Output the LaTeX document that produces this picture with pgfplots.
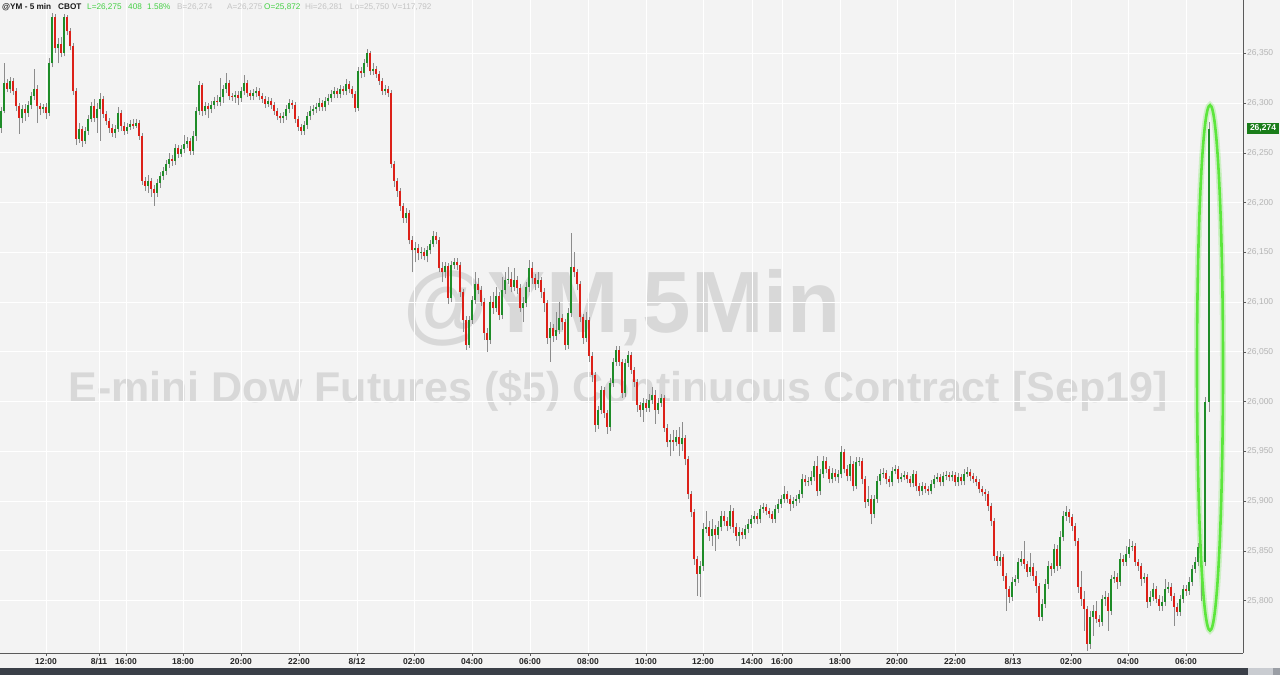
\documentclass[border=0pt]{standalone}
\usepackage{pgfplots}
\usepackage{pgfplotstable}
\usepackage{fontspec}
\setmainfont{Liberation Sans}
\pgfplotsset{compat=1.18}
\definecolor{bggray}{HTML}{F3F3F3}
\definecolor{axisgray}{HTML}{5A5A5A}
\definecolor{labgray}{HTML}{B4B4B4}
\definecolor{upgreen}{HTML}{1E8C28}
\definecolor{downred}{HTML}{DC2018}
\definecolor{wickgray}{HTML}{8C8C8C}
\definecolor{wmgray}{HTML}{D8D8D8}
\definecolor{hdgreen}{HTML}{45D045}
\definecolor{hdgray}{HTML}{C4C4C4}
\definecolor{boxgreen}{HTML}{1A7D1A}
\definecolor{ellgreen}{HTML}{5CE63C}
\definecolor{stripdark}{HTML}{3A3F48}
\definecolor{stripmid}{HTML}{C9CCD1}
\definecolor{stripend}{HTML}{9A9EA5}

\pgfplotstableread{
x o h l c
1 26275 26296 26270 26292
4 26292 26340 26290 26320
7 26320 26324 26311 26314
10 26314 26326 26310 26322
13 26322 26325 26308 26312
16 26312 26315 26292 26297
19 26297 26300 26269 26285
22 26285 26298 26280 26294
25 26294 26299 26282 26290
28 26290 26302 26286 26298
31 26298 26311 26294 26307
34 26307 26334 26303 26314
37 26314 26318 26280 26297
40 26297 26300 26288 26294
43 26294 26299 26290 26296
46 26296 26300 26284 26290
49 26290 26345 26287 26340
52 26340 26391 26336 26387
55 26387 26390 26350 26355
58 26355 26365 26340 26359
61 26359 26366 26346 26350
64 26350 26390 26347 26387
67 26387 26389 26368 26372
70 26372 26375 26353 26357
73 26357 26360 26308 26312
76 26312 26315 26258 26264
79 26264 26280 26260 26274
82 26274 26277 26256 26262
85 26262 26276 26259 26272
88 26272 26288 26268 26284
91 26284 26301 26281 26297
94 26297 26304 26281 26285
97 26285 26300 26270 26294
100 26294 26310 26262 26304
103 26304 26307 26285 26289
106 26289 26292 26278 26282
109 26282 26285 26270 26275
112 26275 26279 26266 26270
115 26270 26278 26265 26274
118 26274 26296 26271 26290
121 26290 26293 26272 26277
124 26277 26281 26268 26272
127 26272 26280 26269 26276
130 26276 26283 26273 26279
133 26279 26284 26274 26277
136 26277 26284 26275 26280
139 26280 26283 26263 26267
142 26267 26270 26218 26222
145 26222 26226 26212 26217
148 26217 26228 26210 26222
151 26222 26225 26206 26214
154 26214 26218 26197 26210
157 26210 26224 26206 26220
160 26220 26231 26215 26227
163 26227 26236 26223 26232
166 26232 26243 26228 26239
169 26239 26250 26235 26244
172 26244 26248 26237 26242
175 26242 26259 26238 26255
178 26255 26258 26245 26249
181 26249 26258 26246 26254
184 26254 26268 26250 26259
187 26259 26266 26255 26262
190 26262 26265 26248 26252
193 26252 26272 26248 26267
196 26267 26296 26262 26292
199 26292 26322 26288 26318
202 26318 26320 26287 26292
205 26292 26301 26288 26297
208 26297 26300 26285 26294
211 26294 26302 26290 26298
214 26298 26306 26294 26302
217 26302 26308 26297 26301
220 26301 26325 26297 26306
223 26306 26318 26300 26314
226 26314 26330 26310 26320
229 26320 26323 26303 26307
232 26307 26310 26302 26306
235 26306 26312 26300 26308
238 26308 26312 26298 26305
241 26305 26316 26301 26312
244 26312 26328 26308 26320
247 26320 26323 26306 26310
250 26310 26313 26303 26307
253 26307 26314 26303 26310
256 26310 26316 26306 26312
259 26312 26315 26303 26307
262 26307 26310 26300 26304
265 26304 26307 26295 26299
268 26299 26306 26296 26302
271 26302 26305 26294 26298
274 26298 26301 26288 26292
277 26292 26295 26283 26287
280 26287 26290 26280 26285
283 26285 26291 26280 26287
286 26287 26298 26283 26294
289 26294 26304 26290 26300
292 26300 26303 26294 26298
295 26298 26301 26280 26284
298 26284 26287 26272 26276
301 26276 26279 26268 26272
304 26272 26282 26268 26278
307 26278 26291 26274 26287
310 26287 26297 26283 26292
313 26292 26298 26288 26294
316 26294 26300 26290 26296
319 26296 26305 26292 26300
322 26300 26303 26292 26296
325 26296 26306 26292 26302
328 26302 26309 26298 26305
331 26305 26313 26301 26309
334 26309 26316 26305 26312
337 26312 26315 26305 26309
340 26309 26318 26305 26314
343 26314 26317 26308 26312
346 26312 26324 26308 26319
349 26319 26322 26310 26314
352 26314 26317 26305 26309
355 26309 26312 26291 26295
358 26295 26336 26292 26332
361 26332 26336 26325 26330
364 26330 26344 26326 26340
367 26340 26354 26336 26350
370 26350 26352 26328 26332
373 26332 26340 26328 26334
376 26334 26337 26325 26329
379 26329 26332 26318 26322
382 26322 26325 26308 26312
385 26312 26318 26308 26314
388 26314 26317 26306 26310
391 26310 26313 26235 26239
394 26239 26242 26216 26222
397 26222 26225 26206 26212
400 26212 26215 26192 26197
403 26197 26200 26180 26185
406 26185 26195 26180 26190
409 26190 26193 26158 26162
412 26162 26166 26130 26152
415 26152 26160 26140 26154
418 26154 26158 26142 26149
421 26149 26155 26143 26150
424 26150 26154 26142 26146
427 26146 26156 26140 26152
430 26152 26162 26148 26158
433 26158 26172 26155 26166
436 26166 26170 26158 26162
439 26162 26165 26130 26134
442 26134 26140 26120 26130
445 26130 26140 26124 26136
448 26136 26139 26098 26104
451 26104 26141 26100 26137
454 26137 26144 26133 26140
457 26140 26144 26132 26137
460 26137 26140 26105 26110
463 26110 26113 26070 26082
466 26082 26086 26052 26057
469 26057 26086 26054 26082
472 26082 26106 26078 26102
475 26102 26130 26098 26118
478 26118 26124 26108 26112
481 26112 26116 26096 26100
484 26100 26104 26062 26069
487 26069 26074 26050 26062
490 26062 26106 26058 26100
493 26100 26110 26088 26094
496 26094 26115 26090 26106
499 26106 26110 26082 26087
502 26087 26125 26083 26112
505 26112 26130 26108 26122
508 26122 26135 26118 26123
511 26123 26130 26110 26115
514 26115 26134 26111 26122
517 26122 26126 26108 26114
520 26114 26118 26090 26094
523 26094 26105 26080 26099
526 26099 26120 26095 26115
529 26115 26142 26110 26134
532 26134 26140 26118 26124
535 26124 26128 26112 26118
538 26118 26130 26114 26122
541 26122 26125 26104 26110
544 26110 26114 26090 26099
547 26099 26102 26058 26064
550 26064 26080 26040 26074
553 26074 26078 26060 26066
556 26066 26090 26062 26072
559 26072 26100 26068 26084
562 26084 26088 26072 26080
565 26080 26083 26052 26057
568 26057 26094 26053 26089
571 26089 26169 26085 26135
574 26135 26150 26125 26130
577 26130 26133 26112 26118
580 26118 26121 26080 26085
583 26085 26088 26058 26064
586 26064 26090 26060 26082
589 26082 26085 26040 26046
592 26046 26050 26020 26027
595 26027 26030 25970 25977
598 25977 25996 25973 25992
601 25992 26016 25988 26012
604 26012 26015 25984 25989
607 25989 25992 25968 25975
610 25975 26024 25971 26019
613 26019 26044 26015 26040
616 26040 26056 26036 26052
619 26052 26056 26036 26040
622 26040 26043 26004 26009
625 26009 26043 26005 26039
628 26039 26051 26035 26047
631 26047 26050 26028 26032
634 26032 26035 26015 26020
637 26020 26023 25990 25997
640 25997 26000 25985 25992
643 25992 26004 25980 25999
646 25999 26003 25990 25994
649 25994 26008 25990 26002
652 26002 26015 25998 26007
655 26007 26012 25978 25992
658 25992 26004 25988 25999
661 25999 26008 25995 26004
664 26004 26007 25970 25974
667 25974 25978 25954 25959
670 25959 25968 25945 25962
673 25962 25972 25950 25959
676 25959 25972 25955 25965
679 25965 25975 25945 25957
682 25957 25980 25950 25964
685 25964 25967 25936 25942
688 25942 25945 25902 25907
691 25907 25910 25884 25889
694 25889 25892 25836 25842
697 25842 25845 25805 25827
700 25827 25840 25804 25835
703 25835 25878 25830 25872
706 25872 25890 25868 25874
709 25874 25880 25860 25865
712 25865 25882 25855 25872
715 25872 25876 25850 25866
718 25866 25880 25862 25874
721 25874 25890 25870 25885
724 25885 25890 25875 25880
727 25880 25884 25870 25875
730 25875 25896 25872 25890
733 25890 25893 25868 25874
736 25874 25878 25860 25865
739 25865 25874 25855 25869
742 25869 25873 25862 25866
745 25866 25876 25862 25872
748 25872 25882 25868 25877
751 25877 25886 25873 25882
754 25882 25890 25878 25885
757 25885 25888 25877 25882
760 25882 25896 25878 25892
763 25892 25898 25888 25894
766 25894 25897 25886 25890
769 25890 25893 25883 25887
772 25887 25890 25878 25882
775 25882 25896 25878 25892
778 25892 25902 25888 25897
781 25897 25906 25893 25902
784 25902 25915 25898 25907
787 25907 25910 25898 25902
790 25902 25906 25890 25897
793 25897 25904 25893 25900
796 25900 25906 25895 25902
799 25902 25911 25898 25907
802 25907 25927 25903 25922
805 25922 25926 25915 25919
808 25919 25924 25915 25920
811 25920 25930 25916 25924
814 25924 25940 25920 25935
817 25935 25945 25905 25910
820 25910 25932 25906 25927
823 25927 25945 25923 25940
826 25940 25944 25928 25932
829 25932 25935 25918 25922
832 25922 25933 25918 25928
835 25928 25932 25920 25924
838 25924 25931 25918 25927
841 25927 25955 25923 25949
844 25949 25952 25928 25932
847 25932 25936 25920 25925
850 25925 25945 25920 25937
853 25937 25940 25910 25915
856 25915 25944 25912 25939
859 25939 25944 25935 25940
862 25940 25943 25917 25922
865 25922 25925 25893 25899
868 25899 25915 25895 25902
871 25902 25906 25877 25887
874 25887 25906 25883 25902
877 25902 25925 25898 25920
880 25920 25932 25916 25927
883 25927 25933 25923 25928
886 25928 25931 25917 25922
889 25922 25925 25914 25919
892 25919 25934 25915 25930
895 25930 25936 25927 25932
898 25932 25935 25918 25922
901 25922 25928 25919 25924
904 25924 25930 25921 25926
907 25926 25929 25918 25922
910 25922 25925 25914 25918
913 25918 25931 25914 25927
916 25927 25930 25910 25915
919 25915 25918 25905 25910
922 25910 25919 25906 25915
925 25915 25918 25908 25912
928 25912 25915 25906 25910
931 25910 25921 25907 25917
934 25917 25926 25913 25922
937 25922 25928 25919 25924
940 25924 25927 25915 25919
943 25919 25929 25915 25925
946 25925 25930 25921 25926
949 25926 25929 25920 25924
952 25924 25930 25920 25926
955 25926 25929 25915 25919
958 25919 25928 25915 25924
961 25924 25927 25916 25920
964 25920 25932 25916 25927
967 25927 25934 25924 25929
970 25929 25932 25920 25925
973 25925 25928 25918 25922
976 25922 25925 25915 25919
979 25919 25922 25908 25912
982 25912 25915 25905 25909
985 25909 25912 25900 25907
988 25907 25910 25890 25895
991 25895 25898 25875 25880
994 25880 25883 25840 25845
997 25845 25850 25835 25840
1000 25840 25850 25835 25844
1003 25844 25847 25820 25825
1006 25825 25828 25790 25812
1009 25812 25815 25798 25804
1012 25804 25824 25800 25819
1015 25819 25826 25815 25822
1018 25822 25843 25818 25839
1021 25839 25850 25835 25842
1024 25842 25860 25832 25837
1027 25837 25840 25824 25829
1030 25829 25848 25825 25834
1033 25834 25838 25820 25825
1036 25825 25830 25808 25815
1039 25815 25818 25780 25784
1042 25784 25802 25780 25797
1045 25797 25822 25793 25817
1048 25817 25840 25812 25835
1051 25835 25838 25825 25832
1054 25832 25857 25828 25852
1057 25852 25856 25830 25835
1060 25835 25870 25832 25864
1063 25864 25890 25860 25885
1066 25885 25895 25880 25889
1069 25889 25892 25878 25884
1072 25884 25887 25870 25875
1075 25875 25878 25855 25860
1078 25860 25863 25808 25814
1081 25814 25830 25795 25802
1084 25802 25810 25770 25792
1087 25792 25795 25750 25757
1090 25757 25790 25752 25784
1093 25784 25796 25765 25790
1096 25790 25800 25778 25782
1099 25782 25786 25774 25779
1102 25779 25806 25775 25802
1105 25802 25810 25795 25804
1108 25804 25808 25770 25790
1111 25790 25826 25786 25822
1114 25822 25830 25818 25824
1117 25824 25828 25812 25819
1120 25819 25848 25815 25842
1123 25842 25846 25835 25839
1126 25839 25855 25835 25847
1129 25847 25862 25843 25854
1132 25854 25860 25850 25855
1135 25855 25858 25835 25839
1138 25839 25842 25830 25835
1141 25835 25838 25815 25822
1144 25822 25828 25818 25824
1147 25824 25827 25793 25799
1150 25799 25810 25795 25804
1153 25804 25818 25800 25812
1156 25812 25815 25798 25802
1159 25802 25806 25790 25795
1162 25795 25805 25790 25799
1165 25799 25822 25795 25812
1168 25812 25819 25808 25814
1171 25814 25818 25800 25805
1174 25805 25808 25775 25794
1177 25794 25798 25785 25789
1180 25789 25806 25785 25802
1183 25802 25816 25798 25812
1186 25812 25816 25805 25810
1189 25810 25824 25806 25819
1192 25819 25836 25815 25832
1195 25832 25844 25828 25839
1198 25839 25858 25835 25854
1201 25854 25857 25800 25839
1205 25839 26005 25835 26000
1209 26000 26281 25990 26274
}\candles

\begin{document}
\begin{tikzpicture}[x=1pt,y=1pt]
\useasboundingbox (0,0) rectangle (1280,675);
\fill[bggray] (0,0) rectangle (1280,675);
% watermark
\node[anchor=base, text=wmgray, font=\fontsize{87}{90}\selectfont\bfseries, inner sep=0pt] at (622,342) {@YM,5Min};
\node[anchor=base, text=wmgray, font=\fontsize{43}{46}\selectfont\bfseries, inner sep=0pt] at (618,272) {E-mini Dow Futures (\$5) Continuous Contract [Sep19]};
\begin{axis}[
  at={(0pt,22pt)}, anchor=south west,
  scale only axis, width=1243pt, height=653pt,
  xmin=0, xmax=1243, ymin=25747.5, ymax=26403.6,
  axis x line*=bottom, axis y line*=right,
  axis line style={-, draw=axisgray, line width=0.8pt},
  xtick={46,99,126,183,241,299,357,414,472,530,588,646,703,752,782,840,897,955,1013,1071,1128,1186},
  xticklabels={12:00,8/11,16:00,18:00,20:00,22:00,8/12,02:00,04:00,06:00,08:00,10:00,12:00,14:00,16:00,18:00,20:00,22:00,8/13,02:00,04:00,06:00},
  ytick={25800,25850,25900,25950,26000,26050,26100,26150,26200,26250,26300,26350},
  yticklabels={{25,800},{25,850},{25,900},{25,950},{26,000},{26,050},{26,100},{26,150},{26,200},{26,250},{26,300},{26,350}},
  tick align=outside, major tick length=3pt,
  tick style={draw=axisgray, line width=0.6pt},
  grid=major, major grid style={draw=white, line width=1pt},
  xticklabel style={font=\fontsize{8.5}{10}\selectfont\bfseries, text=black!85, inner sep=0pt, yshift=-2pt},
  yticklabel style={font=\fontsize{8.5}{10}\selectfont, text=labgray, inner sep=0pt, anchor=west, xshift=1pt},
]
% wicks
\addplot[draw=none, mark=none, forget plot,
  error bars/.cd, y dir=plus, y explicit, error mark=none,
  error bar style={draw=wickgray, line width=0.9pt}]
  table[x=x, y=l, y error expr=\thisrow{h}-\thisrow{l}] {\candles};
% up bodies
\addplot[draw=none, mark=none, forget plot,
  restrict expr to domain={\thisrow{c}-\thisrow{o}}{0:2000},
  error bars/.cd, y dir=plus, y explicit, error mark=none,
  error bar style={draw=upgreen, line width=2.6pt}]
  table[x=x, y=o, y error expr=\thisrow{c}-\thisrow{o}] {\candles};
% down bodies
\addplot[draw=none, mark=none, forget plot,
  restrict expr to domain={\thisrow{o}-\thisrow{c}}{0.1:2000},
  error bars/.cd, y dir=plus, y explicit, error mark=none,
  error bar style={draw=downred, line width=2.6pt}]
  table[x=x, y=c, y error expr=\thisrow{o}-\thisrow{c}] {\candles};
% highlight ellipse
\draw[line width=6pt, draw=ellgreen, opacity=0.25] (axis cs:1210,26034) ellipse [x radius=13, y radius=264];
\draw[line width=2.6pt, draw=ellgreen] (axis cs:1210,26034) ellipse [x radius=13, y radius=264];
\end{axis}
% last price box
\node[fill=boxgreen, text=white, font=\fontsize{8.5}{10}\selectfont\bfseries, inner sep=0pt, minimum width=32pt, minimum height=10.5pt] at (1263,546.5) {26,274};
% header
\begin{scope}[every node/.style={anchor=base west, inner sep=0pt, font=\fontsize{8.2}{10}\selectfont}]
\node[text=black!90, font=\fontsize{8.2}{10}\selectfont\bfseries] at (2,665.5) {@YM - 5 min};
\node[text=black!90, font=\fontsize{8.2}{10}\selectfont\bfseries] at (58,665.5) {CBOT};
\node[text=hdgreen] at (87,665.5) {L=26,275};
\node[text=hdgreen] at (128,665.5) {408};
\node[text=hdgreen] at (147,665.5) {1.58\%};
\node[text=hdgray] at (177,665.5) {B=26,274};
\node[text=hdgray] at (227,665.5) {A=26,275};
\node[text=hdgreen] at (264,665.5) {O=25,872};
\node[text=hdgray] at (305,665.5) {Hi=26,281};
\node[text=hdgray] at (350,665.5) {Lo=25,750};
\node[text=hdgray] at (392,665.5) {V=117,792};
\end{scope}
% bottom strip
\fill[stripdark] (0,0) rectangle (1280,7);
\fill[stripmid] (1248,0) rectangle (1273,7);
\fill[stripend] (1273,0) rectangle (1280,7);
\end{tikzpicture}
\end{document}
